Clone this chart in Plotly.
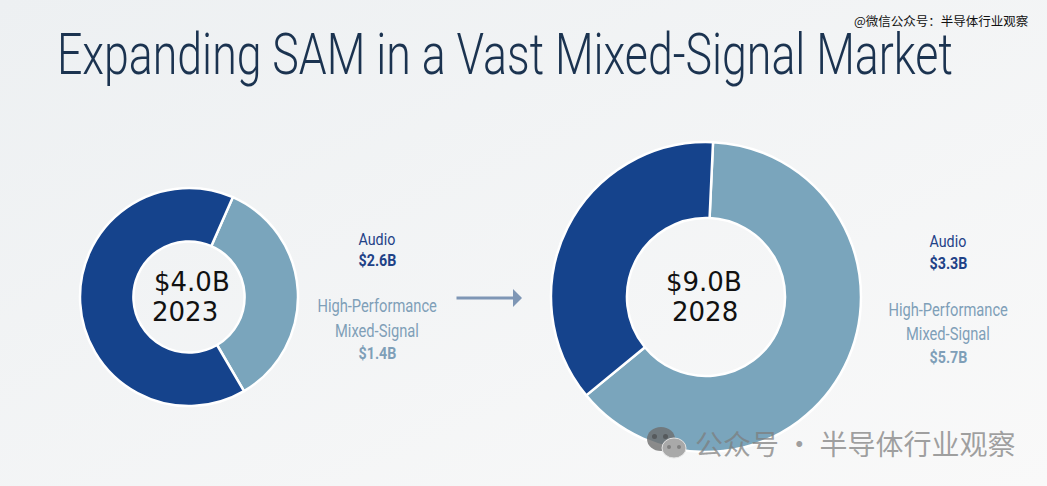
import plotly.graph_objects as go

W, H = 1047, 486

segments = ["High-Performance Mixed-Signal", "Audio"]
values_2023 = [1.4, 2.6]
values_2028 = [5.7, 3.3]
colors = ["#7aa5bc", "#15438c"]

DARK = "#1b3350"
BLUE = "#1f4287"
LIGHT = "#7f9fb8"
NARROW = "Roboto"
WATERMARK = "rgba(125,125,125,0.72)"

# the slide background is a faint diagonal gradient
BACKGROUND = (
    "data:image/svg+xml;utf8,<svg xmlns='http://www.w3.org/2000/svg' width='1047' height='486'>"
    "<linearGradient id='g' x1='0' y1='0' x2='1' y2='1'>"
    "<stop offset='0' stop-color='%23edf0f2'/><stop offset='1' stop-color='%23f9f9f9'/>"
    "</linearGradient><rect width='1047' height='486' fill='url(%23g)'/></svg>"
)

# Barlow Condensed is not installed, so Roboto gets squeezed to the same widths
POST_SCRIPT = """
document.body.style.margin = '0';
document.querySelectorAll('.annotation-text').forEach(function (el) {
    if (!el.style.fontFamily.includes('Roboto')) return;
    var scale = el.textContent.startsWith('Expanding') ? 0.77 : 0.84;
    el.style.transformBox = 'fill-box';
    el.style.transformOrigin = 'center';
    el.style.transform = 'scaleX(' + scale + ')';
});
"""


def px(x):
    return x / W


def py(y):
    return 1 - y / H


def donut(values, cx, cy, r, hole, rotation):
    return go.Pie(
        labels=segments, values=values, hole=hole, sort=False, direction="clockwise",
        rotation=rotation, textinfo="none", hoverinfo="label+value", showlegend=False,
        marker=dict(colors=colors, line=dict(color="white", width=2.5)),
        domain=dict(x=[px(cx - r), px(cx + r)], y=[py(cy + r), py(cy - r)]),
    )


def label(x, y, text, size, color, family=NARROW, weight=None):
    return dict(
        x=px(x), y=py(y), xref="paper", yref="paper", text=text, showarrow=False,
        font=dict(family=family, size=size, color=color, weight=weight), xanchor="center", yanchor="middle",
    )


def dot(x0, x1, y0, y1, color):
    return dict(type="circle", xref="paper", yref="paper", line_width=0, fillcolor=color,
                x0=px(x0), x1=px(x1), y0=py(y1), y1=py(y0))


fig = go.Figure()
fig.add_trace(donut(values_2023, 189, 297, 109, 0.51, 23.7))
fig.add_trace(donut(values_2028, 706, 297, 155, 0.51, 2.6))

annotations = [
    label(505, 54, "Expanding SAM in a Vast Mixed-Signal Market", 58, DARK, weight=300),
    label(941, 20, "@微信公众号：半导体行业观察", 12.5, "#111111", "Noto Sans CJK SC"),
    label(192, 282, "$4.0B", 26, "#111111", "DejaVu Sans"),
    label(185, 312, "2023", 26, "#111111", "DejaVu Sans"),
    label(704, 282, "$9.0B", 26, "#111111", "DejaVu Sans"),
    label(705, 312, "2028", 26, "#111111", "DejaVu Sans"),
    label(377, 239, "Audio", 17, BLUE),
    label(377, 260, "<b>$2.6B</b>", 17, BLUE),
    label(377, 306, "High-Performance", 17.5, LIGHT),
    label(377, 331, "Mixed-Signal", 17.5, LIGHT),
    label(377, 353, "<b>$1.4B</b>", 17, LIGHT),
    label(948, 241, "Audio", 17, BLUE),
    label(948, 263, "<b>$3.3B</b>", 17, BLUE),
    label(948, 310, "High-Performance", 17.5, LIGHT),
    label(948, 334, "Mixed-Signal", 17.5, LIGHT),
    label(948, 357, "<b>$5.7B</b>", 17, LIGHT),
    label(855, 443, "公众号 · 半导体行业观察", 28, WATERMARK, "Noto Sans CJK SC"),
    dict(x=px(522), y=py(298), ax=-67, ay=0, xref="paper", yref="paper", axref="pixel", ayref="pixel",
         text="", showarrow=True, arrowhead=1, arrowsize=1, arrowwidth=3, arrowcolor="#7e96b5"),
]

shapes = [
    dot(647, 675, 427, 451, "rgba(110,110,110,0.8)"),
    dot(652, 657, 434, 439, "rgba(60,60,60,0.5)"),
    dot(663, 668, 434, 439, "rgba(60,60,60,0.5)"),
    dict(dot(662, 686, 438, 458, "#a9a9a9"), line_width=1, line_color="#e4e4e4"),
    dot(667, 671, 445, 449, "#7f7f7f"),
    dot(677, 681, 445, 449, "#7f7f7f"),
]

fig.update_layout(
    width=W, height=H, margin=dict(l=0, r=0, t=0, b=0),
    paper_bgcolor="#f3f4f5", plot_bgcolor="#f3f4f5",
    annotations=annotations, shapes=shapes,
    images=[dict(source=BACKGROUND, xref="paper", yref="paper", x=0, y=1, sizex=1, sizey=1,
                 xanchor="left", yanchor="top", sizing="stretch", layer="below")],
)
fig.write_html("out.html", post_script=POST_SCRIPT, config=dict(displayModeBar=False))
